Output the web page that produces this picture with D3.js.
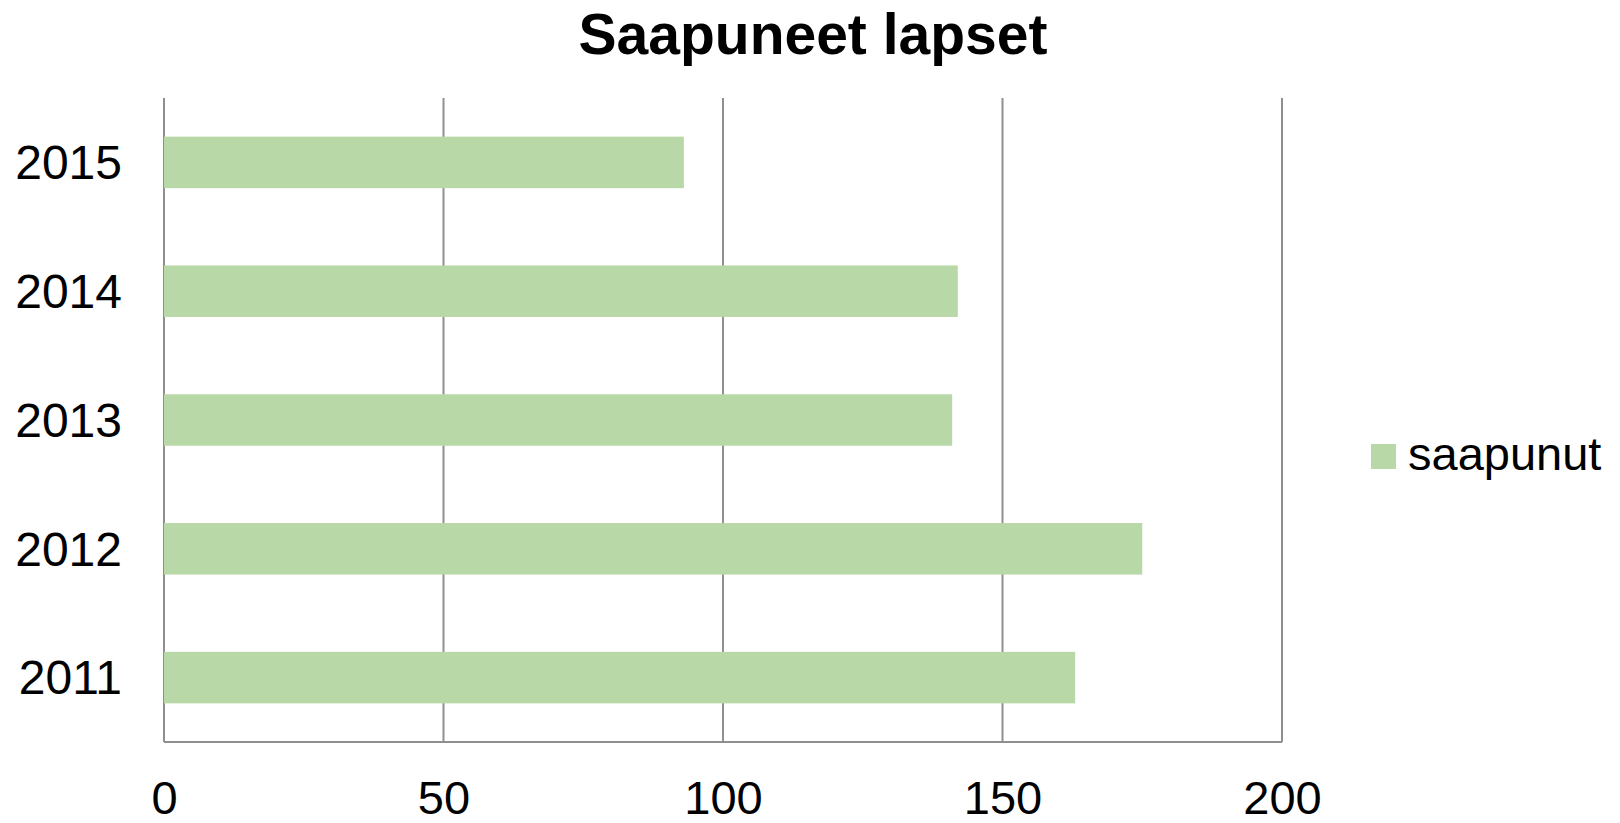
<!DOCTYPE html>
<html>
<head>
<meta charset="utf-8">
<script src="https://cdn.jsdelivr.net/npm/d3@7"></script>
<style>
  body { margin: 0; background: #fff; }
  svg { display: block; font-family: "Liberation Sans", Arial, sans-serif; }
</style>
</head>
<body>
<svg></svg>
<script>
// data
const years = ["2015", "2014", "2013", "2012", "2011"];
const arrived = [93, 142, 141, 175, 163];
const xTicks = [0, 50, 100, 150, 200];
const seriesName = "saapunut";
const title = "Saapuneet lapset";

const width = 1620, height = 823;
const margin = { top: 98, right: 338, bottom: 81, left: 164 };

const svg = d3.select("svg")
    .attr("width", width)
    .attr("height", height);

const x = d3.scaleLinear()
    .domain([0, 200])
    .range([margin.left, width - margin.right]);

const y = d3.scaleBand()
    .domain(years)
    .range([margin.top, height - margin.bottom])
    .paddingInner(0.6)
    .paddingOuter(0.3);

const gridColor = "#8f8f8f";

// vertical gridlines
svg.append("g")
    .selectAll("line")
    .data(xTicks)
    .enter().append("line")
    .attr("x1", d => x(d))
    .attr("x2", d => x(d))
    .attr("y1", margin.top)
    .attr("y2", height - margin.bottom)
    .attr("stroke", gridColor)
    .attr("stroke-width", 2);

// bars
svg.append("g")
    .selectAll("rect")
    .data(years)
    .enter().append("rect")
    .attr("x", x(0))
    .attr("y", d => y(d))
    .attr("width", (d, i) => x(arrived[i]) - x(0))
    .attr("height", y.bandwidth())
    .attr("fill", "#b9d8a8");

// bottom axis line
svg.append("line")
    .attr("x1", x(0))
    .attr("x2", x(200))
    .attr("y1", height - margin.bottom)
    .attr("y2", height - margin.bottom)
    .attr("stroke", gridColor)
    .attr("stroke-width", 2);

// x tick labels
const xAxis = svg.append("g")
    .attr("transform", `translate(0,${height - margin.bottom})`)
    .call(d3.axisBottom(x).tickValues(xTicks).tickSize(0).tickPadding(0));
xAxis.select(".domain").remove();
xAxis.selectAll("text")
    .attr("dy", null)
    .attr("y", 72)
    .attr("font-size", 47)
    .attr("font-family", "Liberation Sans, Arial, sans-serif")
    .attr("fill", "#000");

// y labels
const yAxis = svg.append("g")
    .attr("transform", `translate(${margin.left},0)`)
    .call(d3.axisLeft(y).tickSize(0).tickPadding(42));
yAxis.select(".domain").remove();
yAxis.selectAll("text")
    .attr("dy", "0.35em")
    .attr("font-size", 48)
    .attr("font-family", "Liberation Sans, Arial, sans-serif")
    .attr("fill", "#000");

// title
svg.append("text")
    .attr("x", 813)
    .attr("y", 54)
    .attr("text-anchor", "middle")
    .attr("font-size", 57)
    .attr("font-weight", "bold")
    .text(title);

// legend
const legend = svg.append("g")
    .attr("transform", "translate(1371,444)");
legend.append("rect")
    .attr("width", 25)
    .attr("height", 25)
    .attr("fill", "#b9d8a8");
legend.append("text")
    .attr("x", 37)
    .attr("y", 26)
    .attr("font-size", 47)
    .text(seriesName);
</script>
</body>
</html>
